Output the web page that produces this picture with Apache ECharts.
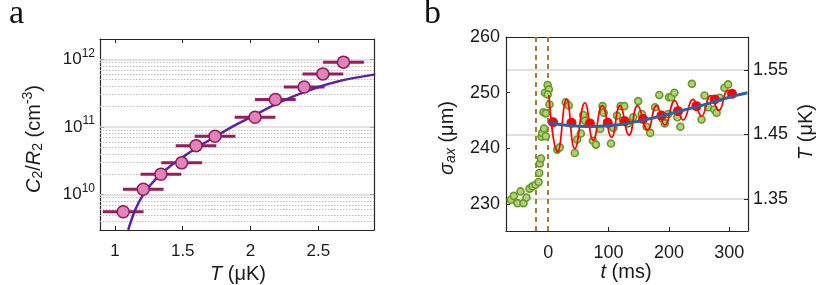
<!DOCTYPE html>
<html><head><meta charset="utf-8">
<script src="https://cdn.jsdelivr.net/npm/echarts@6/dist/echarts.min.js"></script>
<style>html,body{margin:0;padding:0;background:#fff}#c{width:830px;height:285px}</style>
</head><body><div id="c"></div>
<script>
// ---------- Panel a data ----------
const tempA = [1.061, 1.209, 1.339, 1.492, 1.598, 1.738, 2.033, 2.183, 2.395, 2.533, 2.685];
const c2r2 = [5.6e9, 1.2e10, 2.0e10, 2.95e10, 5.3e10, 7.3e10, 1.39e11, 2.55e11, 3.9e11, 6.1e11, 9.1e11];
const tempErr = [0.15, 0.15, 0.15, 0.15, 0.15, 0.15, 0.15, 0.15, 0.15, 0.15, 0.15];
const fitT = [1.098, 1.15, 1.209, 1.27, 1.337, 1.40, 1.49, 1.60, 1.74, 1.90, 2.03, 2.18, 2.40, 2.62, 2.92];
const fitC2R2 = [3.02e9, 6.0e9, 1.0e10, 1.45e10, 2.0e10, 2.57e10, 3.47e10, 4.9e10, 7.2e10, 1.1e11, 1.5e11, 2.15e11, 3.3e11, 4.6e11, 6.0e11];
const xTicksA = [1, 1.5, 2, 2.5];

// ---------- Panel b data ----------
const greenT = [-62,-57,-51,-46,-41,-36,-31,-26,-21,-16,-15,-14,-12,-11,-10,-7,-4,-8,-4,-5.5,-1,1,-1,2,
  15,19,29,34,44,48,54,58,61,74,79,86,90,92,104,108,114,120,124,126,132,141,149,155,163,169,177,184,189,193,199,200,204,209,214,219,238,254,259,265,275,279,284,292,298];
const greenSigma = [230.8,231.5,230.2,232.3,230.2,231.2,232.8,233.2,233.5,234.0,235.6,237.3,238.2,242.1,242.8,243.6,242.2,246.5,246.3,250.0,251.4,250.6,249.7,247.9,
  239.8,240.2,248.3,247.7,239.2,241.6,242.7,246.0,245.0,241.4,240.7,243.5,247.6,246.4,240.9,243.7,245.9,247.6,245.0,247.6,244.5,245.6,248.5,246.2,243.9,242.8,247.4,249.6,245.4,244.5,246.2,249.2,249.2,250.0,245.6,243.9,251.6,245.2,249.5,247.4,247.0,246.4,249.1,250.9,251.5];
const redLineT = [1, 15.5, 30.4, 44, 60.8, 74.5, 89.5, 105, 118.7, 134, 148, 164.5, 179.5, 193, 209.8, 223.5, 240, 254, 269, 282.6, 298, 306];
const redLineSigma = [249.6, 239.4, 248.8, 240.0, 248.2, 241.5, 247.7, 242.0, 247.7, 242.4, 247.7, 243.3, 247.7, 244.2, 248.6, 245.1, 248.8, 245.8, 249.5, 246.8, 250.4, 249.8];
const redDotT = [8, 38.5, 69, 98.5, 127, 157, 187.5, 215, 245.5, 276, 304.5];
const redDotSigma = [244.7, 244.6, 244.5, 244.6, 244.9, 245.3, 245.9, 246.7, 247.6, 248.8, 249.8];
const blueT = [0, 25, 50, 75, 100, 125, 150, 175, 200, 225, 250, 275, 300, 330];
const blueSigma = [244.7, 244.2, 244.0, 243.95, 244.1, 244.4, 244.9, 245.5, 246.2, 246.9, 247.6, 248.4, 249.2, 250.0];
const quenchTimes = [-20, 0];
const xTicksB = [0, 100, 200, 300];
const yTicksB = [230, 240, 250, 260];
const yTicksBRight = [1.35, 1.45, 1.55];

const FONT = 'Liberation Sans';
const AX = '#262626';
const zip = (a, b) => a.map((v, i) => [v, b[i]]);

// minor dotted grid values for the log axis (gridlines, not data)
const yMinA = 3.0e9, yMaxA = 2.0e12;
const minorGrid = [];
for (let d = 9; d <= 11; d++) for (let k = 2; k <= 9; k++) {
  const v = k * Math.pow(10, d);
  if (v > yMinA && v < yMaxA) minorGrid.push({ yAxis: v });
}
const majorGrid = [1e10, 1e11, 1e12].map(v => ({ yAxis: v }));

const chart = echarts.init(document.getElementById('c'), null, { renderer: 'canvas' });
const tickIn = { show: true, inside: true, length: 4, lineStyle: { color: AX, width: 1 } };
const axLine = { show: true, onZero: false, lineStyle: { color: AX, width: 1.2 } };
const lbl = (size, margin) => ({ fontFamily: FONT, fontSize: size, color: '#1a1a1a', margin: margin });
const nameRich = {
  i: { fontFamily: FONT, fontStyle: 'italic', fontSize: 20, fill: '#1a1a1a' },
  n: { fontFamily: FONT, fontSize: 20, fill: '#1a1a1a' },
  sb: { fontFamily: FONT, fontSize: 14, fill: '#1a1a1a', padding: [9, 0, 0, 0] },
  sbi: { fontFamily: FONT, fontStyle: 'italic', fontSize: 14, fill: '#1a1a1a', padding: [9, 0, 0, 0] },
  sp: { fontFamily: FONT, fontSize: 14, fill: '#1a1a1a', padding: [0, 0, 11, 0] }
};

chart.setOption({
  animation: false,
  grid: [
    { left: 100, top: 39, width: 274, height: 191 },
    { left: 506, top: 37, width: 242, height: 194 }
  ],
  xAxis: [
    { gridIndex: 0, type: 'value', min: 0.89, max: 2.91, axisLine: axLine,
      axisTick: Object.assign({}, tickIn, { customValues: xTicksA }),
      axisLabel: Object.assign(lbl(17, 13), { customValues: xTicksA }), splitLine: { show: false } },
    { gridIndex: 0, type: 'value', position: 'top', min: 0.89, max: 2.91, axisLine: axLine,
      axisTick: Object.assign({}, tickIn, { customValues: xTicksA }),
      axisLabel: { show: false }, splitLine: { show: false } },
    { gridIndex: 1, type: 'value', min: -70, max: 331, axisLine: axLine,
      axisTick: Object.assign({}, tickIn, { customValues: xTicksB }),
      axisLabel: Object.assign(lbl(18, 13), { customValues: xTicksB }), splitLine: { show: false } },
    { gridIndex: 1, type: 'value', position: 'top', min: -70, max: 331, axisLine: axLine,
      axisTick: { show: false }, axisLabel: { show: false }, splitLine: { show: false } }
  ],
  yAxis: [
    { gridIndex: 0, type: 'log', min: yMinA, max: yMaxA, axisLine: axLine, axisTick: tickIn,
      axisLabel: Object.assign(lbl(17, 5), {
        showMinLabel: false, showMaxLabel: false,
        formatter: v => '{b|10}{s|' + Math.round(Math.log10(v)) + '}',
        rich: { b: { fontFamily: FONT, fontSize: 17, color: '#1a1a1a' },
                s: { fontFamily: FONT, fontSize: 12, color: '#1a1a1a', padding: [0, 0, 12, 0] } }
      }),
      splitLine: { show: false } },
    { gridIndex: 0, type: 'log', position: 'right', min: yMinA, max: yMaxA, axisLine: axLine, axisTick: tickIn,
      axisLabel: { show: false }, splitLine: { show: false } },
    { gridIndex: 1, type: 'value', min: 225.2, max: 260, axisLine: axLine,
      axisTick: Object.assign({}, tickIn, { customValues: yTicksB }),
      axisLabel: Object.assign(lbl(18, 6), { customValues: yTicksB }), splitLine: { show: false } },
    { gridIndex: 1, type: 'value', position: 'right', min: 1.30, max: 1.601, axisLine: axLine,
      axisTick: Object.assign({}, tickIn, { customValues: yTicksBRight }),
      axisLabel: Object.assign(lbl(18, 5), { customValues: yTicksBRight, formatter: v => v.toFixed(2) }),
      splitLine: { show: true, lineStyle: { color: '#d6d6d6', width: 1.5 } } }
  ],
  graphic: [
    { type: 'text', x: 9, y: -3, style: { text: 'a', fontFamily: 'Liberation Serif', fontSize: 34, fill: '#111' } },
    { type: 'text', x: 424, y: -3, style: { text: 'b', fontFamily: 'Liberation Serif', fontSize: 34, fill: '#111' } },
    { type: 'text', x: 34, y: 139, rotation: Math.PI / 2,
      style: { text: '{i|C}{sb|2}{n|/}{i|R}{sb|2}{n| (cm}{sp|-3}{n|)}', align: 'center', verticalAlign: 'middle', rich: nameRich } },
    { type: 'text', x: 238, y: 274,
      style: { text: '{i|T}{n| (μK)}', align: 'center', verticalAlign: 'middle', rich: nameRich } },
    { type: 'text', x: 447, y: 138, rotation: Math.PI / 2,
      style: { text: '{i|σ}{sbi|ax}{n| (μm)}', align: 'center', verticalAlign: 'middle', rich: nameRich } },
    { type: 'text', x: 806, y: 132, rotation: Math.PI / 2,
      style: { text: '{i|T}{n| (μK)}', align: 'center', verticalAlign: 'middle', rich: nameRich } },
    { type: 'text', x: 626, y: 272,
      style: { text: '{i|t}{n| (ms)}', align: 'center', verticalAlign: 'middle', rich: nameRich } }
  ],
  series: [
    // ---- panel a ----
    { type: 'line', xAxisIndex: 0, yAxisIndex: 0, data: [], silent: true, z: 1,
      markLine: { silent: true, symbol: 'none', label: { show: false }, animation: false, z: 1,
        lineStyle: { color: '#bdbdbd', width: 1, type: [1.5, 1.5] }, data: minorGrid } },
    { type: 'line', xAxisIndex: 0, yAxisIndex: 0, data: [], silent: true, z: 1,
      markLine: { silent: true, symbol: 'none', label: { show: false }, animation: false, z: 1,
        lineStyle: { color: '#d9d9d9', width: 1.5, type: 'solid' }, data: majorGrid } },
    { type: 'custom', xAxisIndex: 0, yAxisIndex: 0, clip: true, z: 10,
      data: tempA.map((t, i) => [t, c2r2[i], tempErr[i]]),
      renderItem: (params, api) => {
        const y = api.value(1), x = api.value(0), e = api.value(2);
        const p1 = api.coord([x - e, y]), p2 = api.coord([x + e, y]);
        return { type: 'line', shape: { x1: p1[0], y1: p1[1], x2: p2[0], y2: p2[1] },
          style: { stroke: '#951d5b', lineWidth: 3 } };
      } },
    { type: 'line', xAxisIndex: 0, yAxisIndex: 0, data: zip(fitT, fitC2R2), smooth: 0.4, z: 11,
      showSymbol: false, lineStyle: { color: '#5b22a6', width: 2.5 }, clip: true },
    { type: 'scatter', xAxisIndex: 0, yAxisIndex: 0, data: zip(tempA, c2r2), symbolSize: 12, z: 12,
      itemStyle: { color: '#e283bb', borderColor: '#8e1c58', borderWidth: 1.5, opacity: 1 } },
    // ---- panel b ----
    { type: 'line', xAxisIndex: 2, yAxisIndex: 2, data: [], silent: true, z: 1,
      markLine: { silent: true, symbol: 'none', label: { show: false }, animation: false, z: 1,
        lineStyle: { color: '#b0763a', width: 2, type: [5, 4] },
        data: quenchTimes.map(t => ({ xAxis: t })) } },
    { type: 'scatter', xAxisIndex: 2, yAxisIndex: 2, data: zip(greenT, greenSigma), symbolSize: 7, z: 10,
      itemStyle: { color: '#afd275', borderColor: '#67982a', borderWidth: 1.6, opacity: 1 } },
    { type: 'line', xAxisIndex: 2, yAxisIndex: 2, data: zip(redLineT, redLineSigma), smooth: 0.5, z: 11,
      showSymbol: false, lineStyle: { color: '#ff0000', width: 1.7 } },
    { type: 'scatter', xAxisIndex: 2, yAxisIndex: 2, data: zip(redDotT, redDotSigma), symbolSize: 10, z: 12,
      itemStyle: { color: '#ff0000', opacity: 1 } },
    { type: 'line', xAxisIndex: 2, yAxisIndex: 2, data: zip(blueT, blueSigma), smooth: 0.4, z: 13,
      showSymbol: false, lineStyle: { color: '#2a63a3', width: 3 }, clip: true }
  ]
});
</script></body></html>
